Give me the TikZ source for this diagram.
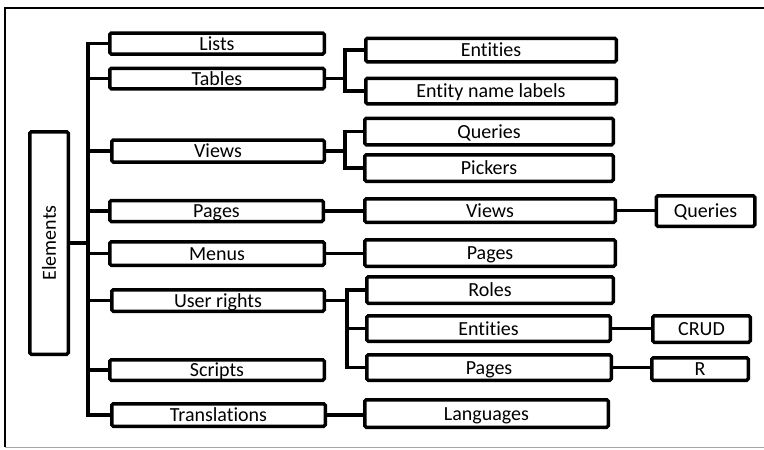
\documentclass[tikz,border=0pt]{standalone}
\usepackage{fontspec}
\setmainfont{Carlito}[Ligatures=NoCommon]
\begin{document}
\begin{tikzpicture}[x=1pt,y=-1pt,
  box/.style={draw, line width=3.5pt, rounded corners=1.5pt, inner sep=0pt,
    font=\fontsize{20}{22}\selectfont, text=black, text height=14pt, text depth=1pt},
  link/.style={line width=3.5pt}]
\useasboundingbox (0,0) rectangle (764,450);
% page frame
\draw[line width=1.6pt] (764,8) -- (5,8) -- (5,447);
\draw[line width=1pt, gray!70] (5,447) -- (764,447);

% root
\node[box, minimum width=38.5pt, minimum height=222.5pt, text height=, text depth=] (elem) at (49,243)
  {\rotatebox{90}{Elements}};

% first level
\node[box, minimum width=214.5pt, minimum height=21pt] (lists)  at (217,43.5)  {Lists};
\node[box, minimum width=214.5pt, minimum height=20.5pt] (tables) at (217,78.5) {Tables};
\node[box, minimum width=212.5pt, minimum height=22pt] (views)  at (218,151)   {Views};
\node[box, minimum width=213.5pt, minimum height=21pt] (pages)  at (216.5,211) {Pages};
\node[box, minimum width=214.5pt, minimum height=23.5pt] (menus)  at (217,253.5) {Menus};
\node[box, minimum width=212.5pt, minimum height=21.5pt] (rights) at (218,300.5) {User rights};
\node[box, minimum width=214.5pt, minimum height=20.5pt] (scripts) at (217,370) {Scripts};
\node[box, minimum width=213.5pt, minimum height=22.5pt] (transl) at (218.5,415) {Translations};

% second level
\node[box, minimum width=250.5pt, minimum height=23.5pt] (ent)    at (491,50)   {Entities};
\node[box, minimum width=250.5pt, minimum height=25.5pt] (entlbl) at (491,91)   {Entity name labels};
\node[box, minimum width=248.5pt, minimum height=26.5pt] (qry)    at (489,131.5) {Queries};
\node[box, minimum width=248.5pt, minimum height=26.5pt] (pick)   at (489,168)  {Pickers};
\node[box, minimum width=250.5pt, minimum height=23.5pt] (pview)  at (490,210.5) {Views};
\node[box, minimum width=250.5pt, minimum height=26.5pt] (mpage)  at (490,253)  {Pages};
\node[box, minimum width=246.5pt, minimum height=26.5pt] (roles)  at (490,290)  {Roles};
\node[box, minimum width=243.5pt, minimum height=25.5pt] (rent)   at (488.5,328.5) {Entities};
\node[box, minimum width=244.5pt, minimum height=25.5pt] (rpage)  at (489,367.5) {Pages};
\node[box, minimum width=243.5pt, minimum height=27.5pt] (lang)   at (486.5,413.5) {Languages};

% third level
\node[box, minimum width=98.5pt, minimum height=30.5pt] (vqry) at (705.5,211) {Queries};
\node[box, minimum width=97.5pt, minimum height=26.5pt] (crud) at (701.5,329) {CRUD};
\node[box, minimum width=96.5pt, minimum height=22.5pt] (rr)   at (700,369)   {R};

% trunk from the root
\coordinate (tx) at (88,0);
\draw[link] (elem.east) -- (elem.east -| tx);
\draw[link] (lists.west) -- (lists.west -| tx) -- (transl.west -| tx) -- (transl.west);
\foreach \n in {tables,views,pages,menus,rights,scripts}
  \draw[link] (\n.west) -- (\n.west -| tx);

% forks to the second level
\coordinate (bx) at (345,0);
\coordinate (by) at (347,0);
\draw[link] (tables.east) -- (tables.east -| bx);
\draw[link] (ent.west) -- (ent.west -| bx) -- (entlbl.west -| bx) -- (entlbl.west);
\draw[link] (views.east) -- (views.east -| bx);
\draw[link] (qry.west) -- (qry.west -| bx) -- (pick.west -| bx) -- (pick.west);
\draw[link] (rights.east) -- (rights.east -| by);
\draw[link] (roles.west) -- (roles.west -| by) -- (rpage.west -| by) -- (rpage.west);
\draw[link] (rent.west) -- (rent.west -| by);

% straight links
\draw[link] (pages.east) -- (pages.east -| pview.west);
\draw[link] (menus.east) -- (menus.east -| mpage.west);
\draw[link] (transl.east) -- (transl.east -| lang.west);
\draw[link] (pview.east) -- (pview.east -| vqry.west);
\draw[link] (rent.east) -- (rent.east -| crud.west);
\draw[link] (rpage.east) -- (rpage.east -| rr.west);
\end{tikzpicture}
\end{document}
